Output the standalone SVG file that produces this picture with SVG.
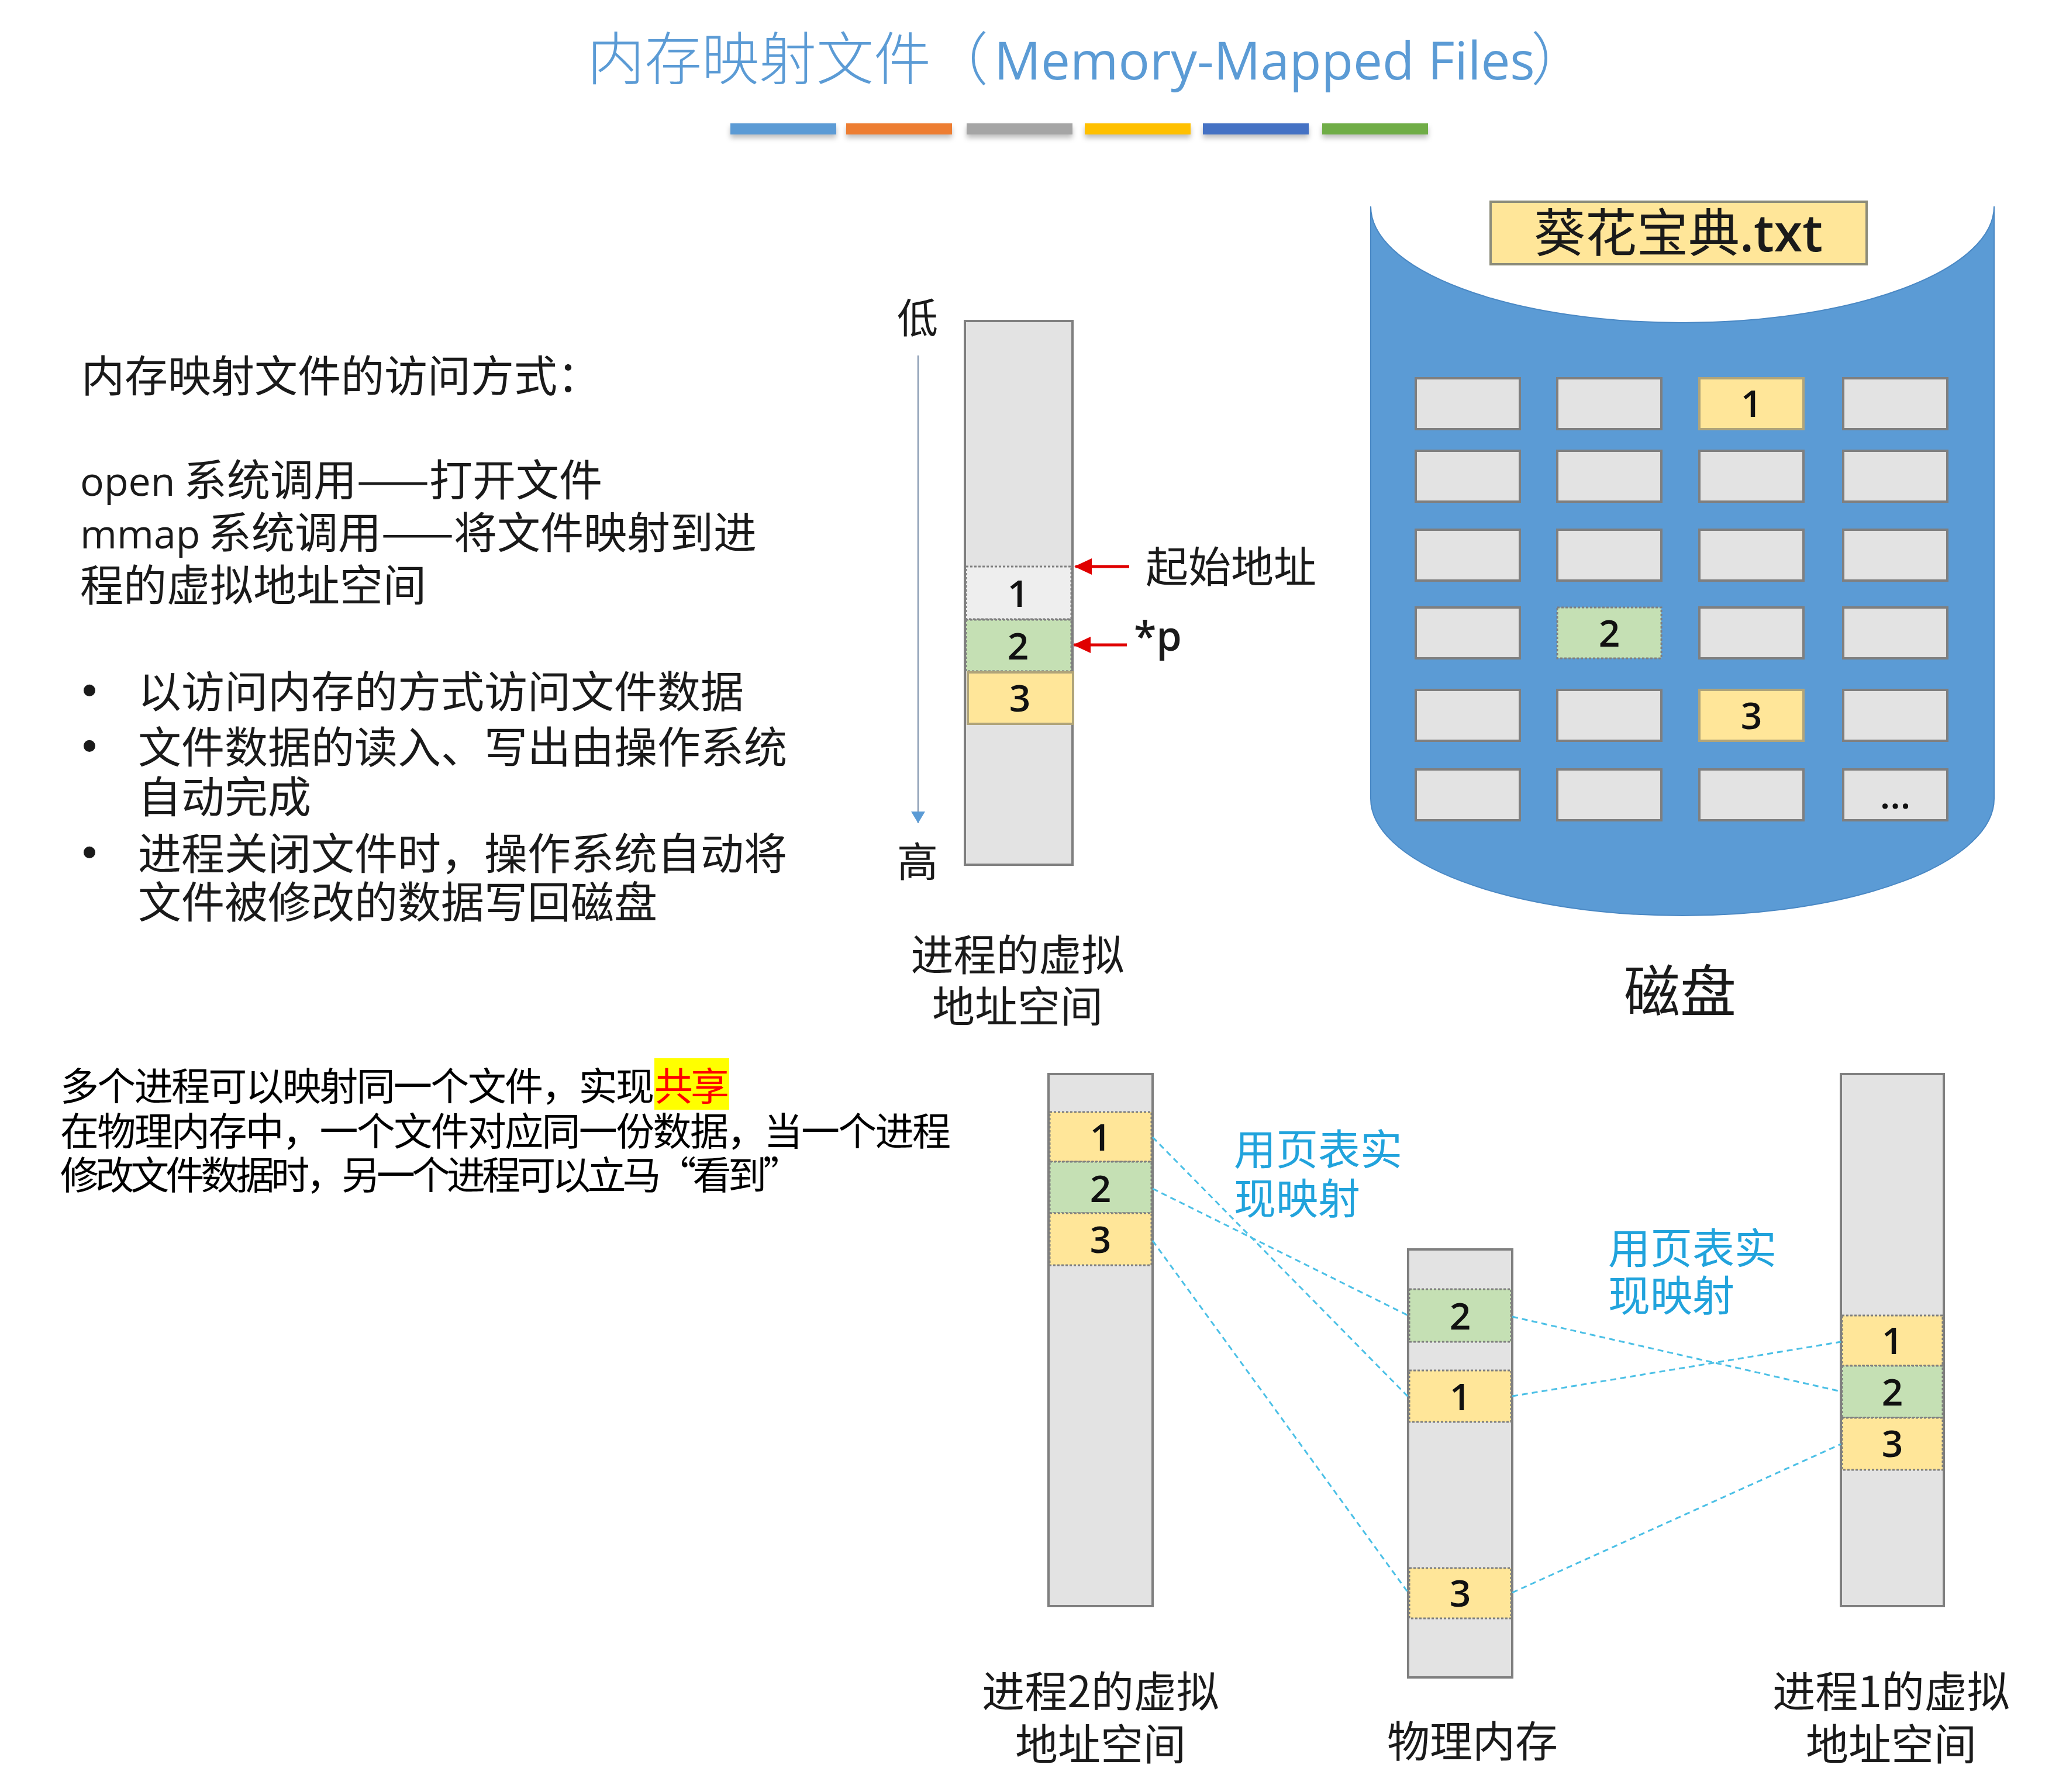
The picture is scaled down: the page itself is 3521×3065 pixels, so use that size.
<svg xmlns="http://www.w3.org/2000/svg" width="3521" height="3065" viewBox="0 0 3521 3065">
<defs>
<style>
.cjk{font-family:"Noto Sans CJK SC","Noto Sans",sans-serif;}
.lat{font-family:"Open Sans","Noto Sans CJK SC",sans-serif;}
.txt{fill:#1a1a1a;}
.col{fill:#e3e3e3;stroke:#7f7f7f;stroke-width:4;}
.seg{stroke:#7f7f7f;stroke-width:3;stroke-dasharray:4 3;}
.yel{fill:#ffe699;}
.grn{fill:#c5e0b4;}
.lgr{fill:#eeeeee;}
.blk{fill:#e3e3e3;stroke:#7f7f7f;stroke-width:4;}
.blky{fill:#ffe699;stroke:#b0a47a;stroke-width:4;}
.digit{font-family:"Open Sans",sans-serif;font-size:64px;font-weight:600;fill:#111;text-anchor:middle;}
.map{stroke:#4cc0e6;stroke-width:3;stroke-dasharray:10 7;fill:none;}
.red{stroke:#e00000;stroke-width:5;fill:none;}
.blue{fill:#21a3dc;}
.bar{filter:url(#sh);}
.bul{font-family:"Liberation Sans",sans-serif;font-size:74px;fill:#1a1a1a;}
</style>
<filter id="sh" x="-10%" y="-50%" width="120%" height="250%">
<feDropShadow dx="0" dy="6" stdDeviation="4" flood-color="#000" flood-opacity="0.25"/>
</filter>
<marker id="ar" markerUnits="userSpaceOnUse" markerWidth="30" markerHeight="28" refX="28" refY="14" orient="auto">
<path d="M0 0 L30 14 L0 28 Z" fill="#e00000"/>
</marker>
<marker id="ab" markerUnits="userSpaceOnUse" markerWidth="26" markerHeight="24" refX="20" refY="12" orient="auto">
<path d="M0 0 L20 12 L0 24 Z" fill="#5b9bd5"/>
</marker>
</defs>
<rect width="3521" height="3065" fill="#ffffff"/>

<g id="title">
<text y="136" fill="#5b9bd5" font-size="98"><tspan class="cjk" x="1004" font-weight="300">内存映射文件</tspan><tspan class="cjk" x="1592" font-weight="300">（</tspan><tspan class="lat" x="1700" font-size="89" font-weight="500">Memory-Mapped Files</tspan><tspan class="cjk" x="2618" font-weight="300">）</tspan></text>
<rect class="bar" x="1249" y="211" width="181" height="19" fill="#5b9bd5"/>
<rect class="bar" x="1447" y="211" width="181" height="19" fill="#ed7d31"/>
<rect class="bar" x="1653" y="211" width="181" height="19" fill="#a5a5a5"/>
<rect class="bar" x="1855" y="211" width="181" height="19" fill="#ffc000"/>
<rect class="bar" x="2057" y="211" width="181" height="19" fill="#4472c4"/>
<rect class="bar" x="2261" y="211" width="181" height="19" fill="#70ad47"/>
</g>

<g id="left-text" class="cjk txt" font-size="74">
<text x="139" y="670">内存映射文件的访问方式：</text>
<text y="848"><tspan class="lat" x="137" font-size="68">open</tspan><tspan x="314">系统调用——打开文件</tspan></text>
<text y="938"><tspan class="lat" x="137" font-size="68">mmap</tspan><tspan x="356">系统调用——将文件映射到进</tspan></text>
<text x="137" y="1028">程的虚拟地址空间</text>
<text class="bul" x="140" y="1206">•</text>
<text x="236" y="1210">以访问内存的方式访问文件数据</text>
<text class="bul" x="140" y="1301">•</text>
<text x="236" y="1305">文件数据的读入、写出由操作系统</text>
<text x="236" y="1390">自动完成</text>
<text class="bul" x="140" y="1483">•</text>
<text x="236" y="1487">进程关闭文件时，操作系统自动将</text>
<text x="236" y="1570">文件被修改的数据写回磁盘</text>
</g>

<g id="share-text" class="cjk" font-size="66" fill="#000">
<rect x="1119" y="1810" width="128" height="88" fill="#ffff00"/>
<text x="103" y="1882" textLength="1016" lengthAdjust="spacing">多个进程可以映射同一个文件，实现</text>
<text x="1119" y="1882" fill="#ff0000" textLength="128" lengthAdjust="spacing">共享</text>
<text x="103" y="1959" textLength="1523" lengthAdjust="spacing">在物理内存中，一个文件对应同一份数据，当一个进程</text>
<text x="103" y="2034" textLength="1268" lengthAdjust="spacing">修改文件数据时，另一个进程可以立马“看到”</text>
</g>

<g id="vaddr-top">
<rect class="col" x="1650" y="549" width="184" height="930"/>
<rect class="seg lgr" x="1652" y="969" width="180" height="90"/>
<rect class="seg grn" x="1652" y="1060" width="180" height="88"/>
<rect class="blky" x="1655" y="1150" width="180" height="88" stroke="#7f7f7f"/>
<text class="digit" x="1741" y="1038">1</text>
<text class="digit" x="1741" y="1128">2</text>
<text class="digit" x="1744" y="1217">3</text>
<text class="cjk txt" x="1569" y="570" font-size="70" text-anchor="middle">低</text>
<text class="cjk txt" x="1569" y="1500" font-size="70" text-anchor="middle">高</text>
<text class="cjk txt" x="1740" y="1660" font-size="73" text-anchor="middle">进程的虚拟</text>
<text class="cjk txt" x="1740" y="1748" font-size="73" text-anchor="middle">地址空间</text>
<text class="cjk txt" x="1959" y="996" font-size="73">起始地址</text>
<text class="lat txt" x="1939" y="1113" font-size="70" font-weight="600">*p</text>
</g>

<g id="disk">
<path d="M2344 353 A533 199 0 0 0 3410 353 L3410 1366 A533 200 0 0 1 2344 1366 Z" fill="#5b9bd5" stroke="#4a88c4" stroke-width="2"/>
<rect x="2549" y="345" width="643" height="107" fill="#ffe699" stroke="#8c8c7a" stroke-width="4"/>
<text x="2870" y="430" font-size="88" text-anchor="middle" class="txt"><tspan class="cjk">葵花宝典</tspan><tspan class="lat" font-weight="600">.txt</tspan></text>
<g id="disk-blocks">
<rect class="blk" x="2421" y="647" width="178" height="87"/>
<rect class="blk" x="2663" y="647" width="178" height="87"/>
<rect class="blky" x="2906" y="647" width="178" height="87"/>
<rect class="blk" x="3152" y="647" width="178" height="87"/>
<rect class="blk" x="2421" y="771" width="178" height="87"/>
<rect class="blk" x="2663" y="771" width="178" height="87"/>
<rect class="blk" x="2906" y="771" width="178" height="87"/>
<rect class="blk" x="3152" y="771" width="178" height="87"/>
<rect class="blk" x="2421" y="906" width="178" height="87"/>
<rect class="blk" x="2663" y="906" width="178" height="87"/>
<rect class="blk" x="2906" y="906" width="178" height="87"/>
<rect class="blk" x="3152" y="906" width="178" height="87"/>
<rect class="blk" x="2421" y="1039" width="178" height="87"/>
<rect class="seg grn" x="2663" y="1039" width="178" height="87"/>
<rect class="blk" x="2906" y="1039" width="178" height="87"/>
<rect class="blk" x="3152" y="1039" width="178" height="87"/>
<rect class="blk" x="2421" y="1180" width="178" height="87"/>
<rect class="blk" x="2663" y="1180" width="178" height="87"/>
<rect class="blky" x="2906" y="1180" width="178" height="87"/>
<rect class="blk" x="3152" y="1180" width="178" height="87"/>
<rect class="blk" x="2421" y="1316" width="178" height="87"/>
<rect class="blk" x="2663" y="1316" width="178" height="87"/>
<rect class="blk" x="2906" y="1316" width="178" height="87"/>
<rect class="blk" x="3152" y="1316" width="178" height="87"/>
<text class="digit" x="2995" y="713">1</text>
<text class="digit" x="2752" y="1106">2</text>
<text class="digit" x="2995" y="1247">3</text>
<text class="digit" x="3241" y="1383" font-size="56" font-weight="700">...</text>
</g>
<text class="cjk txt" x="2873" y="1730" font-size="96" text-anchor="middle">磁盘</text>
</g>

<g id="proc2">
<rect class="col" x="1793" y="1837" width="178" height="910"/>
<rect class="seg yel" x="1795" y="1902" width="174" height="85"/>
<rect class="seg grn" x="1795" y="1987" width="174" height="88"/>
<rect class="seg yel" x="1795" y="2075" width="174" height="89"/>
<text class="digit" x="1882" y="1968">1</text>
<text class="digit" x="1882" y="2056">2</text>
<text class="digit" x="1882" y="2143">3</text>
<text class="cjk txt" x="1882" y="2920" font-size="73" text-anchor="middle">进程2的虚拟</text>
<text class="cjk txt" x="1882" y="3010" font-size="73" text-anchor="middle">地址空间</text>
</g>

<g id="physmem">
<rect class="col" x="2408" y="2137" width="178" height="732"/>
<rect class="seg grn" x="2410" y="2205" width="174" height="90"/>
<rect class="seg yel" x="2410" y="2344" width="174" height="88"/>
<rect class="seg yel" x="2410" y="2682" width="174" height="86"/>
<text class="digit" x="2497" y="2274">2</text>
<text class="digit" x="2497" y="2412">1</text>
<text class="digit" x="2497" y="2748">3</text>
<text class="cjk txt" x="2518" y="3005" font-size="73" text-anchor="middle">物理内存</text>
</g>

<g id="proc1">
<rect class="col" x="3148" y="1837" width="176" height="910"/>
<rect class="seg yel" x="3150" y="2250" width="172" height="86"/>
<rect class="seg grn" x="3150" y="2336" width="172" height="89"/>
<rect class="seg yel" x="3150" y="2425" width="172" height="89"/>
<text class="digit" x="3236" y="2316">1</text>
<text class="digit" x="3236" y="2404">2</text>
<text class="digit" x="3236" y="2492">3</text>
<text class="cjk txt" x="3234" y="2920" font-size="73" text-anchor="middle">进程1的虚拟</text>
<text class="cjk txt" x="3234" y="3010" font-size="73" text-anchor="middle">地址空间</text>
</g>

<g id="map-labels" class="cjk blue" font-size="72">
<text x="2110" y="1992">用页表实</text>
<text x="2110" y="2076">现映射</text>
<text x="2750" y="2161">用页表实</text>
<text x="2750" y="2242">现映射</text>
</g>

<g id="connectors">
<line x1="1570" y1="608" x2="1570" y2="1408" stroke="#8c9db5" stroke-width="2.5" marker-end="url(#ab)"/>
<line class="red" x1="1931" y1="969" x2="1839" y2="969" marker-end="url(#ar)"/>
<line class="red" x1="1927" y1="1103" x2="1837" y2="1103" marker-end="url(#ar)"/>
<line class="map" x1="1971" y1="1945" x2="2408" y2="2389"/>
<line class="map" x1="1971" y1="2033" x2="2408" y2="2250"/>
<line class="map" x1="1971" y1="2122" x2="2408" y2="2724"/>
<line class="map" x1="2586" y1="2252" x2="3148" y2="2380"/>
<line class="map" x1="2586" y1="2388" x2="3148" y2="2295"/>
<line class="map" x1="2586" y1="2724" x2="3148" y2="2470"/>
</g>
</svg>
